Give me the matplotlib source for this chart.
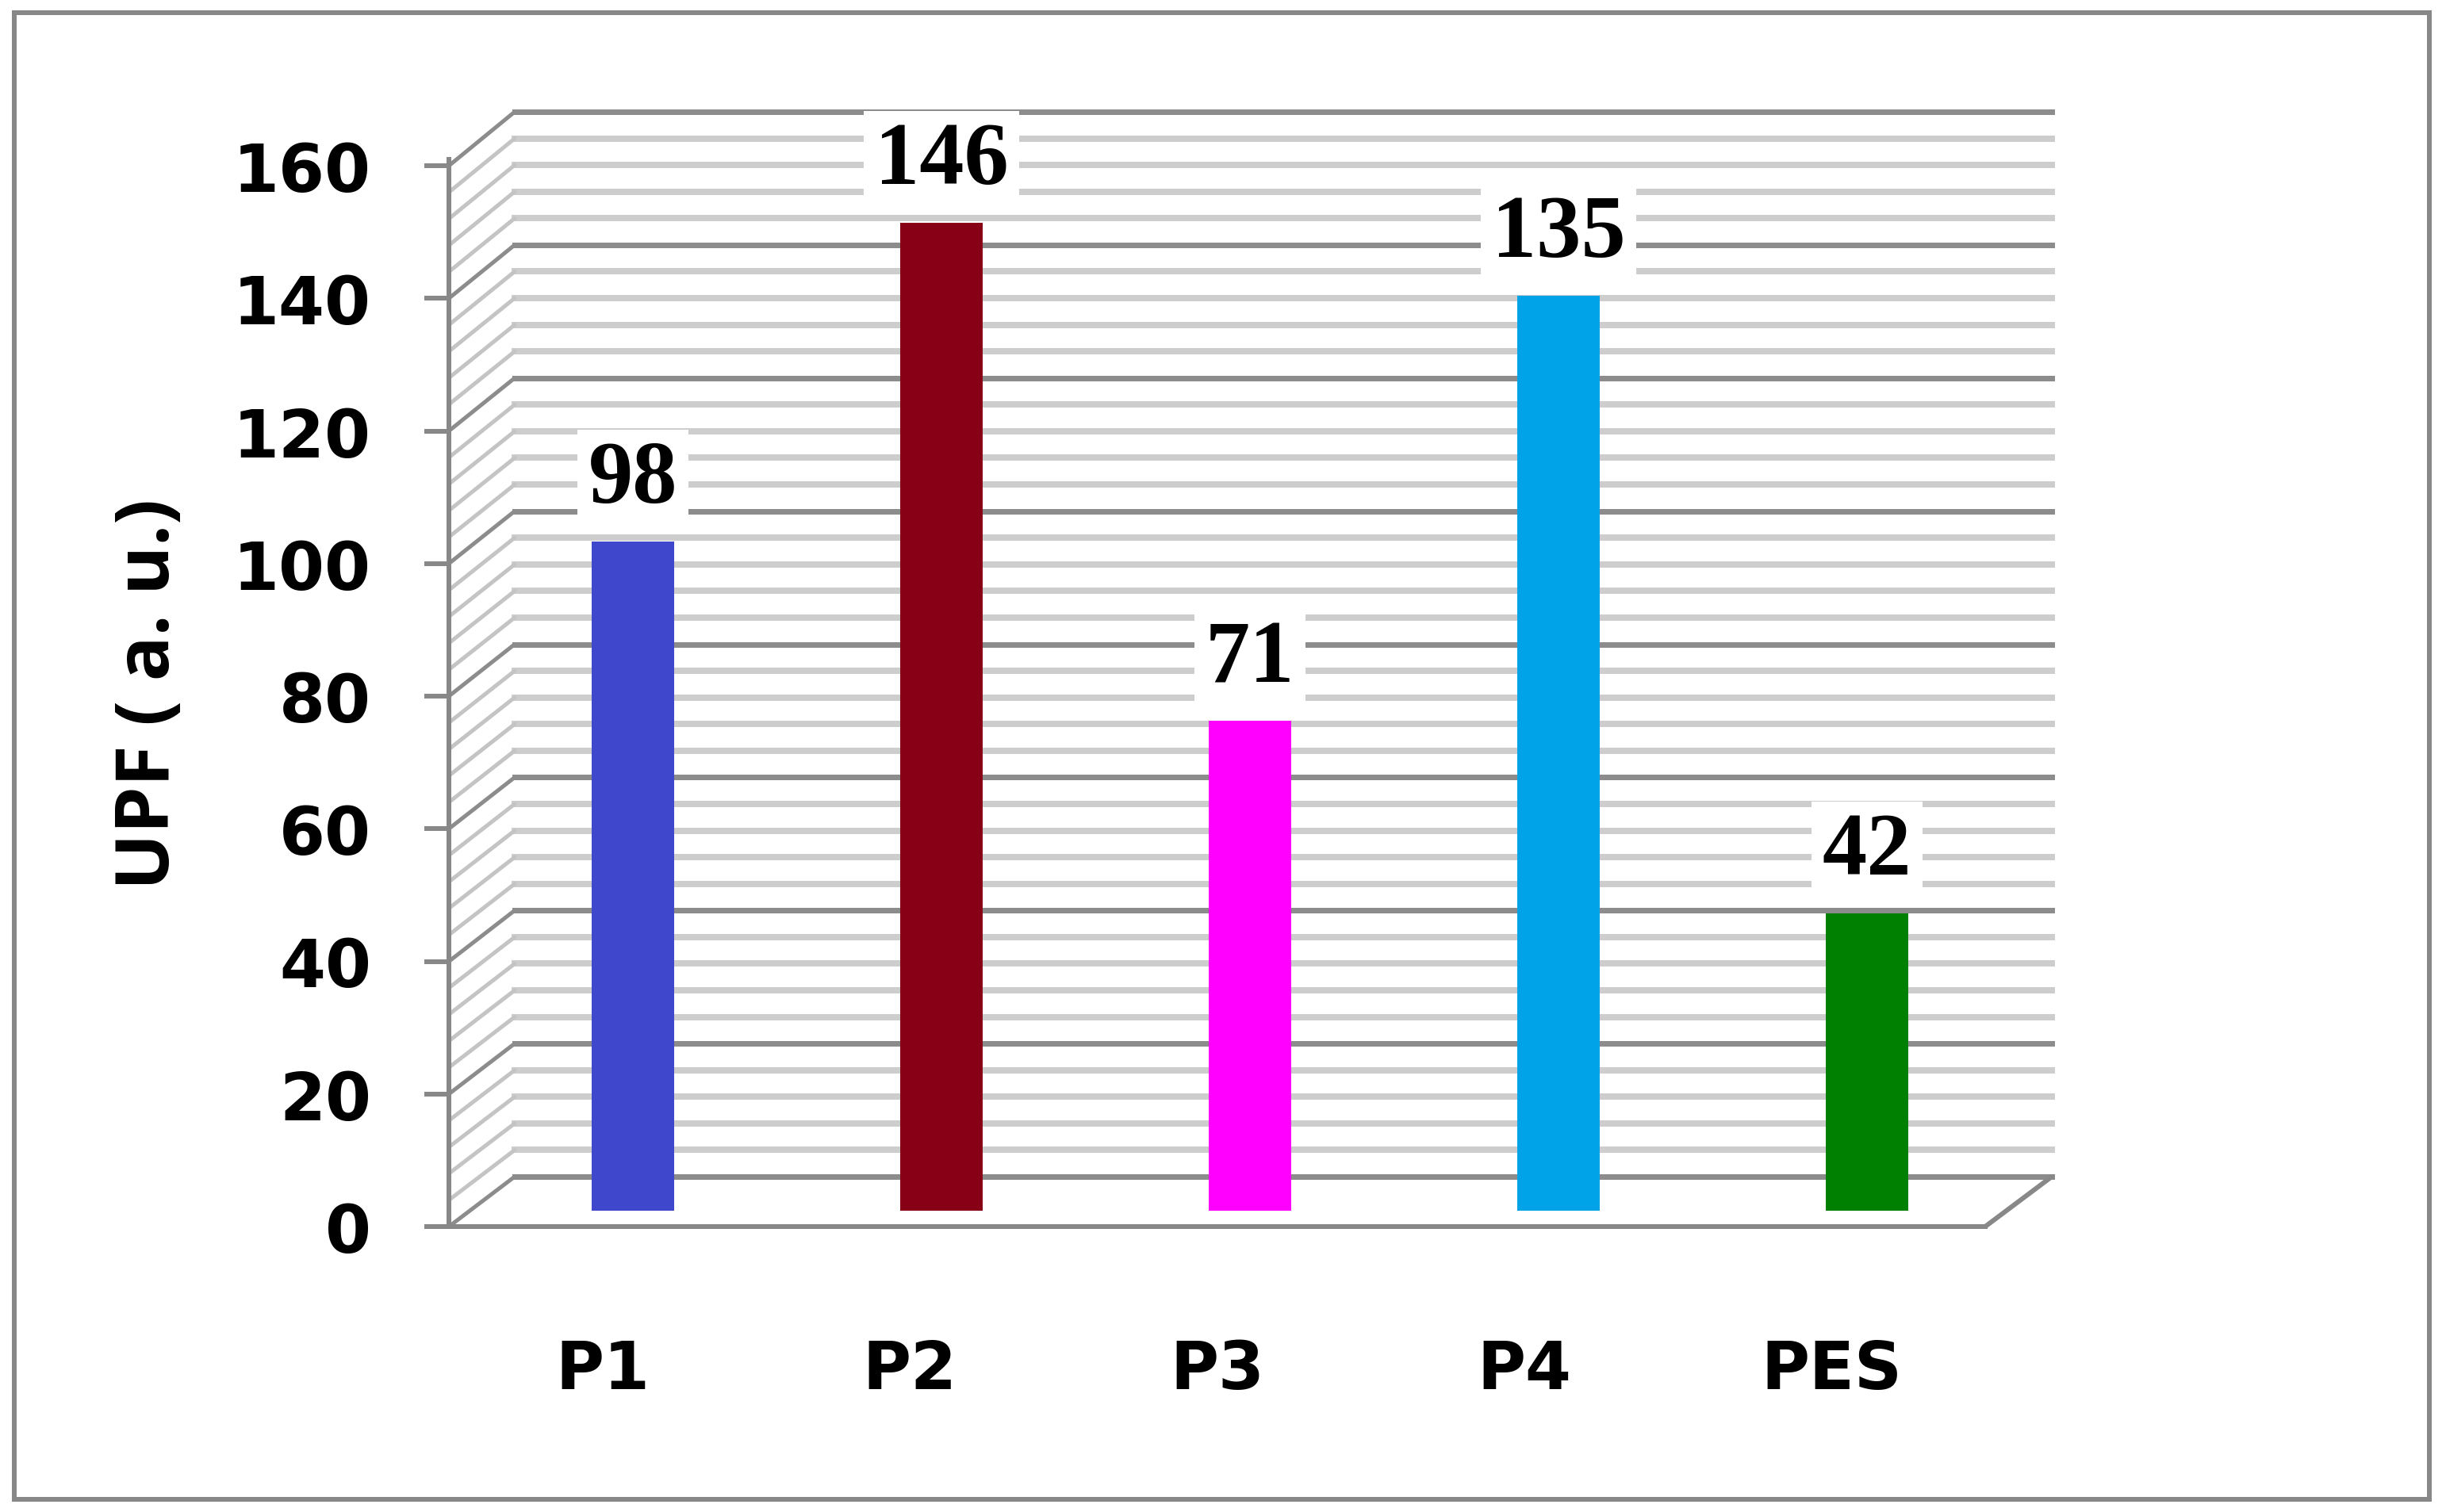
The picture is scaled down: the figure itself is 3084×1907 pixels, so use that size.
import numpy as np
import matplotlib
matplotlib.use("Agg")
import matplotlib.pyplot as plt
from matplotlib.patches import ConnectionPatch, Rectangle

# data
categories = ["P1", "P2", "P3", "P4", "PES"]
upf = [98, 146, 71, 135, 42]
bar_colors = ["#3F48CC", "#880015", "#FF00FF", "#00A2E8", "#008000"]
y_ticks = [0, 20, 40, 60, 80, 100, 120, 140, 160]
grid_step = 4

plt.rcParams["font.family"] = ["Open Sans", "DejaVu Sans"]

W, H = 3084, 1908
fig = plt.figure(figsize=(W / 100, H / 100), dpi=100)


def box(x0, x1, y_zero, y_top):
    # pixel rectangle (y measured from top) -> figure fraction
    return [x0 / W, 1 - y_zero / H, (x1 - x0) / W, (y_zero - y_top) / H]


PX = 0.72  # points per pixel at dpi 100
dark = "#888888"

# back wall, bar plane and front plane of the fake 3D chart
bk = fig.add_axes(box(649, 2587, 1485, 142), zorder=0)
ax = fig.add_axes(box(566, 2503, 1548, 210), zorder=1)
bx = fig.add_axes(box(603.5, 2548.5, 1505, 165), zorder=2)

for a in (bk, ax, bx):
    a.set_xlim(-0.5, 4.5)
    a.set_ylim(0, 160)
    a.patch.set_visible(False)

bk.axis("off")
bx.axis("off")

# back wall gridlines
for v in range(0, 161, grid_step):
    major = v % 20 == 0
    bk.axhline(v, color="#8c8c8c" if major else "#cdcdcd",
               lw=(7 if major else 8) * PX, clip_on=False)

# side wall diagonals
for v in range(0, 161, grid_step):
    major = v % 20 == 0
    cp = ConnectionPatch(xyA=(-0.5, v), coordsA=ax.transData,
                         xyB=(-0.5, v), coordsB=bk.transData,
                         color="#8c8c8c" if major else "#c4c4c4",
                         lw=5 * PX, zorder=0.5)
    fig.add_artist(cp)

# floor right edge
fig.add_artist(ConnectionPatch(xyA=(4.5, 0), coordsA=ax.transData,
                               xyB=(4.5, 0), coordsB=bk.transData,
                               color=dark, lw=6 * PX, zorder=0.5))

# front axes
for s in ("top", "right"):
    ax.spines[s].set_visible(False)
for s in ("left", "bottom"):
    ax.spines[s].set_color(dark)
    ax.spines[s].set_linewidth(6 * PX)
ax.spines["left"].set_bounds(0, 161)

ax.set_yticks(y_ticks)
ax.tick_params(axis="y", length=31 * PX, width=6 * PX, color=dark,
               pad=67 * PX, labelsize=60)
ax.set_xticks(range(len(categories)))
ax.set_xticklabels(categories)
ax.tick_params(axis="x", length=0, pad=140 * PX, labelsize=60)
for lab in ax.get_xticklabels() + ax.get_yticklabels():
    lab.set_fontweight("bold")
    lab.set_family("DejaVu Sans")

fig.text(189 / W, 1 - 875 / H, "UPF ( a. u.)", rotation=90, ha="center",
         va="center", fontsize=68, fontweight="bold")

# bars (they reach a little below zero: floor thickness)
floor = 2.75
x = np.arange(len(categories))
bx.bar(x, np.array(upf) + floor, bottom=-floor, width=0.267,
       color=bar_colors, clip_on=False)

for i, v in enumerate(upf):
    bx.annotate(str(v), (i, v), xytext=(0, 36), textcoords="offset points",
                ha="center", va="baseline", fontsize=81, fontweight="bold",
                family=["Liberation Serif", "DejaVu Serif"],
                bbox=dict(boxstyle="square,pad=0.12", fc="white", ec="none"),
                annotation_clip=False)

# outer frame
fig.add_artist(Rectangle((18 / W, 1 - 1892 / H), (3063 - 18) / W,
                         (1892 - 17) / H, transform=fig.transFigure,
                         fill=False, ec=dark, lw=6 * PX))

fig.savefig("out.png", dpi=100)
